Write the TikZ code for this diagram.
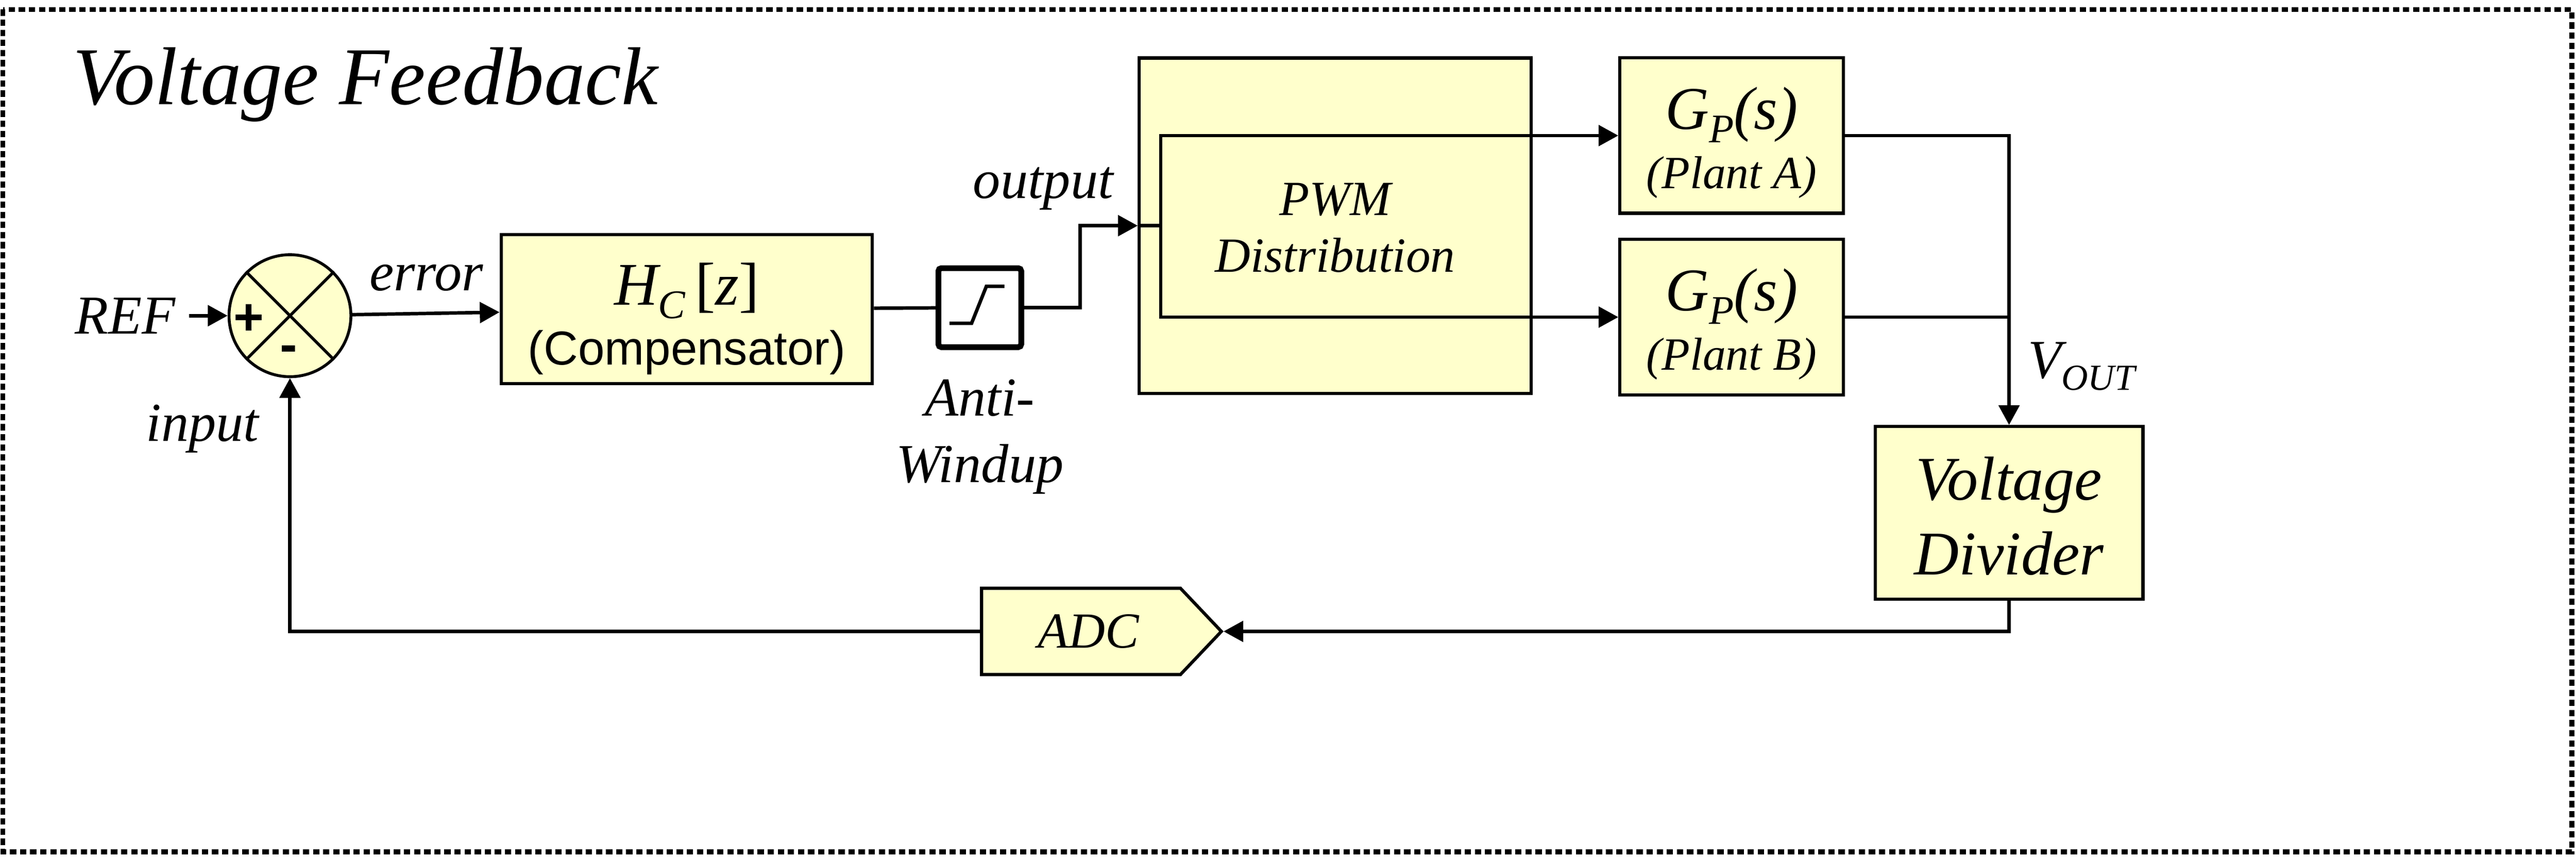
\documentclass[tikz,border=0pt]{standalone}
\usepackage{fontspec}
\setmainfont{Liberation Serif}
\setsansfont{Liberation Sans}
\usetikzlibrary{positioning,arrows.meta,shapes.symbols}
\definecolor{blockyellow}{HTML}{FFFFCC}
\newcommand{\dropsub}[1]{\raisebox{-0.22em}{\scalebox{0.67}{#1}}}

\begin{document}
\begin{tikzpicture}[x=0.02cm, y=-0.02cm,
    frame/.style={line width=1.7pt, dash pattern=on 2.2pt off 1.3pt},
    block/.style={draw, line width=1.1pt, fill=blockyellow, inner sep=0pt, align=center},
    plant/.style={block, minimum width=2.72cm, minimum height=1.89cm, font=\itshape\fontsize{16}{20.6}\selectfont},
    wire/.style={line width=1.2pt},
    arw/.style={wire, -{Triangle[length=0.24cm, width=0.25cm]}},
    lbl/.style={inner sep=0pt, font=\itshape\fontsize{19}{23}\selectfont},
    sign/.style={inner sep=0pt, font=\sffamily\bfseries\fontsize{18}{18}\selectfont}]

  \useasboundingbox (0,0) rectangle (1568,521);
  \draw[frame] (1.75,5.75) rectangle (1565.5,518);

  \node[anchor=base west, inner sep=0pt, font=\itshape\fontsize{28.4}{34}\selectfont] (title) at (44,63.6) {Voltage Feedback};

  \node[circle, draw, line width=1pt, fill=blockyellow, minimum size=1.484cm, inner sep=0pt] (sum) at (176.5,192) {};
  \draw[line width=1pt] (sum.45) -- (sum.225) (sum.135) -- (sum.-45);
  \node[sign] (plus) at (151.6,194.3) {+};
  \node[sign] (minus) at (175.6,215.4) {-};

  \node[lbl, inner xsep=0.16cm, anchor=east] (ref) at (115,192) {REF};
  \node[lbl, anchor=base west] (err) at (224.6,176.8) {error};
  \node[lbl, anchor=base west] (inp) at (88.6,268.4) {input};

  \node[block, minimum width=4.52cm, minimum height=1.81cm, font=\sffamily\fontsize{16.5}{20.6}\selectfont] (hc) at (418,188)
    {\rule{0pt}{0.628cm}\smash{\rmfamily\itshape\fontsize{21}{20}\selectfont H\dropsub{C}\,{\upshape[}z{\upshape]}}\\\smash{(Compensator)}};

  \node[draw, line width=2pt, rounded corners=1pt, fill=white, minimum width=1.008cm, minimum height=0.96cm] (aw) at (596.4,187.1) {};
  \draw[line width=1.2pt] ([shift={(-0.37cm,-0.19cm)}]aw.center) -- ++(0.27cm,0) -- ++(0.18cm,0.45cm) -- ++(0.22cm,0);
  \node[lbl, align=center, below=0.35cm of aw] (awlbl) {Anti-\\Windup};
  \node[lbl, anchor=base west] (outlbl) at (592,120.7) {output};

  \node[block, minimum width=4.77cm, minimum height=4.08cm, font=\itshape\fontsize{17}{19.7}\selectfont] (pwm) at (812.7,137.25)
    {\rule{0pt}{0.436cm}\smash{PWM}\\\smash{Distribution}};
  \coordinate[right=0.28cm of pwm.west] (split);

  \node[plant] (gpa) at (1054,82.45)
    {\rule{0pt}{0.568cm}\smash{\fontsize{21}{21}\selectfont G\dropsub{P}(s)}\\\smash{(Plant A)}};
  \node[plant, below=0.28cm of gpa] (gpb)
    {\rule{0pt}{0.568cm}\smash{\fontsize{21}{21}\selectfont G\dropsub{P}(s)}\\\smash{(Plant B)}};

  \node[block, minimum width=3.26cm, minimum height=2.10cm, font=\itshape\fontsize{21.5}{25.9}\selectfont] (vd) at (1222.9,311.9)
    {\rule{0pt}{0.59cm}\smash{Voltage}\\\smash{Divider}};
  \node[lbl, anchor=base west] (vout) at (1234,230) {V\dropsub{OUT}};

  \node[block, signal, signal to=east, signal pointer angle=93, minimum width=2.92cm, minimum height=1.05cm, anchor=west, font=\itshape\fontsize{17.5}{21}\selectfont] (adc) at (596.5,384) {\hspace*{0.18cm}ADC};

  \draw[arw] (ref) -- (sum);
  \draw[arw] (sum) -- (hc);
  \draw[wire] (hc) -- (aw);
  \draw[arw] (aw.east) -- ++(34,0) |- (pwm.west);
  \draw[wire] (pwm.west) -- (split);
  \draw[arw] (split) |- (gpa);
  \draw[arw] (split) |- (gpb);
  \draw[arw] (gpa) -| (vd);
  \draw[wire] (gpb.east) -- (gpb.east -| vd.north);
  \draw[arw] (vd) |- (adc.east);
  \draw[arw] (adc.west) -| (sum);

\end{tikzpicture}
\end{document}
